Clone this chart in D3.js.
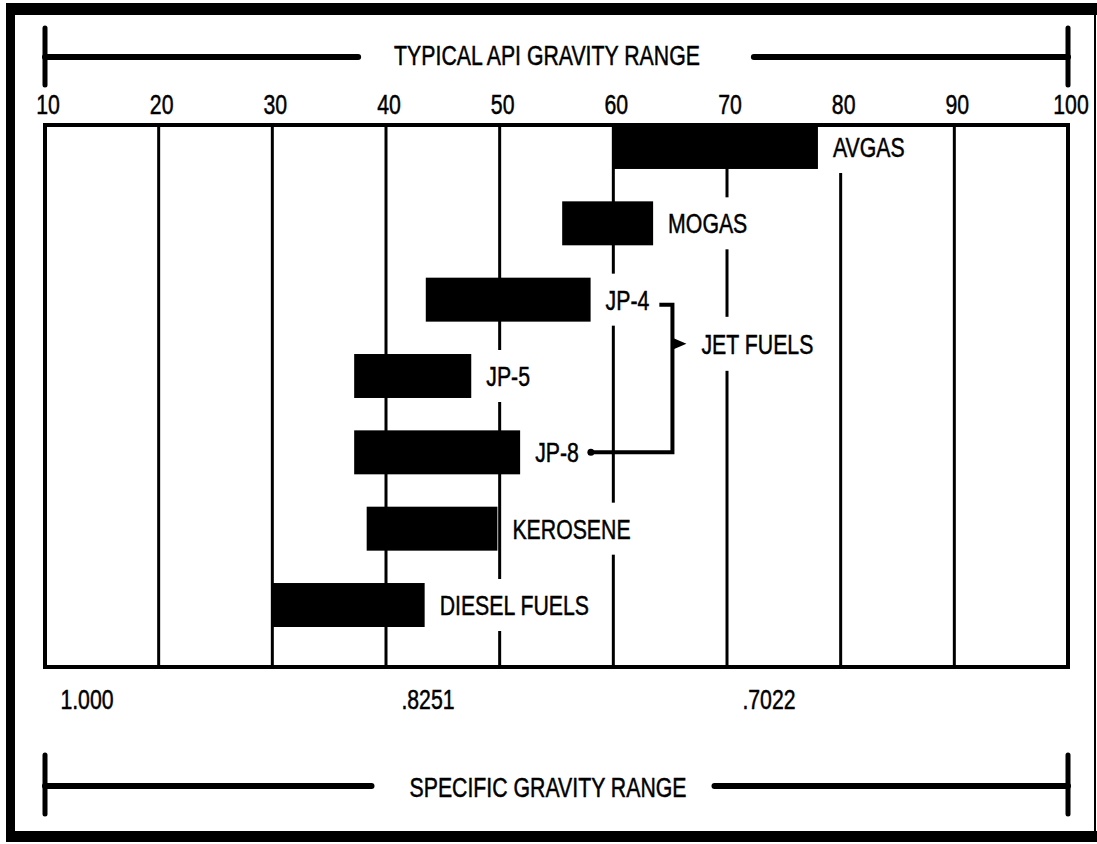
<!DOCTYPE html>
<html>
<head>
<meta charset="utf-8">
<script src="https://cdn.jsdelivr.net/npm/d3@7/dist/d3.min.js"></script>
<style>
  html, body { margin: 0; padding: 0; background: #fff; }
  svg { display: block; }
  text { font-family: "Liberation Sans", Arial, Helvetica, sans-serif; fill: #000; stroke: #000; stroke-width: 0.5px; }
</style>
</head>
<body>
<svg id="chart" width="1097" height="844"></svg>
<script>
// ---------------- data ----------------
const categories = ["AVGAS", "MOGAS", "JP-4", "JP-5", "JP-8", "KEROSENE", "DIESEL FUELS"];
const apiLow     = [60,   55.5, 43.5, 37.2, 37.2, 38.3, 30];
const apiHigh    = [78,   63.5, 58,   47.5, 51.8, 49.8, 43.4];
const apiTicks   = [10, 20, 30, 40, 50, 60, 70, 80, 90, 100];
const sgTickApi    = [10, 40, 70];
const sgTickLabels = ["1.000", ".8251", ".7022"];
const jetFuelGroup = ["JP-4", "JP-5", "JP-8"];
const jetFuelLabel = "JET FUELS";
const topTitle = "TYPICAL API GRAVITY RANGE";
const bottomTitle = "SPECIFIC GRAVITY RANGE";

// ---------------- layout ----------------
const W = 1097, H = 844;
const plotTop = 125, plotBottom = 667;
const FS = 28, SX = 0.76; // condensed type
const svg = d3.select("#chart");

const x = d3.scaleLinear().domain([10, 100]).range([45, 1068]);
const y = d3.scaleBand().domain(categories).range([plotTop, 627]).paddingInner(0.424).paddingOuter(0);

function addText(sel, tx, ty, str, anchor) {
  return sel.append("text")
    .attr("transform", `translate(${tx},${ty}) scale(${SX},1)`)
    .attr("text-anchor", anchor || "start")
    .attr("font-size", FS)
    .text(str);
}
function textWidth(t) { return t.node().getComputedTextLength() * SX; }

// outer scanned border
svg.append("rect").attr("x", 0).attr("y", 0).attr("width", W).attr("height", H).attr("fill", "#fff");
svg.append("rect").attr("x", 7).attr("y", 3).attr("width", W - 7).attr("height", 12).attr("fill", "#000");
svg.append("rect").attr("x", 6).attr("y", 3).attr("width", 9).attr("height", 839).attr("fill", "#000");
svg.append("rect").attr("x", 6).attr("y", 831).attr("width", W - 6).attr("height", 11).attr("fill", "#000");
svg.append("rect").attr("x", 1094).attr("y", 3).attr("width", 2).attr("height", 839).attr("fill", "#000");

// ---------------- range brackets ----------------
function rangeBracket(cy, y0, y1, title, baseline, cx, gapL, gapR) {
  const g = svg.append("g");
  const t = addText(g, cx, baseline, title, "middle");
  const tw = textWidth(t);
  const lw = 6;
  g.append("line").attr("x1", x(10)).attr("x2", cx - tw / 2 - gapL).attr("y1", cy).attr("y2", cy)
    .attr("stroke", "#000").attr("stroke-width", lw).attr("stroke-linecap", "round");
  g.append("line").attr("x1", cx + tw / 2 + gapR).attr("x2", x(100)).attr("y1", cy).attr("y2", cy)
    .attr("stroke", "#000").attr("stroke-width", lw).attr("stroke-linecap", "round");
  [x(10), x(100)].forEach(px => {
    g.append("line").attr("x1", px).attr("x2", px).attr("y1", y0).attr("y2", y1)
      .attr("stroke", "#000").attr("stroke-width", 5).attr("stroke-linecap", "round");
  });
}
rangeBracket(57, 28, 85, topTitle, 65, 547, 36, 54);
rangeBracket(786, 755, 814, bottomTitle, 797, 548, 38, 28);

// ---------------- API tick labels (top) ----------------
const topAxis = svg.append("g");
apiTicks.forEach(v => addText(topAxis, x(v) + 3, 114, String(v), "middle"));

// ---------------- gridlines ----------------
svg.append("g").selectAll("line")
  .data(apiTicks.slice(1, -1))
  .join("line")
  .attr("x1", d => x(d)).attr("x2", d => x(d))
  .attr("y1", plotTop).attr("y2", plotBottom)
  .attr("stroke", "#000").attr("stroke-width", 3);

// ---------------- bars ----------------
const rows = categories.map((c, i) => ({ name: c, lo: apiLow[i], hi: apiHigh[i] }));
svg.append("g").selectAll("rect")
  .data(rows)
  .join("rect")
  .attr("x", d => x(d.lo))
  .attr("y", d => y(d.name))
  .attr("width", d => x(d.hi) - x(d.lo))
  .attr("height", y.bandwidth())
  .attr("fill", "#000");

// ---------------- bar labels (white backing hides gridlines) ----------------
const labelG = svg.append("g");
const labelEnd = {};
rows.forEach(d => {
  const cy = y(d.name) + y.bandwidth() / 2;
  const lx = x(d.hi) + 15;
  const bg = labelG.append("rect").attr("fill", "#fff");
  const t = addText(labelG, lx, cy + 10, d.name, "start");
  const tw = textWidth(t);
  bg.attr("x", lx - 4).attr("y", cy - 26).attr("width", tw + 8).attr("height", 52);
  labelEnd[d.name] = lx + tw;
});

// ---------------- jet fuels bracket ----------------
const first = jetFuelGroup[0], last = jetFuelGroup[jetFuelGroup.length - 1];
const yTop = y(first) + y.bandwidth() / 2 + 5;
const yBot = y(last) + y.bandwidth() / 2;
const bx = x(65.2);
const nubY = (y(jetFuelGroup[0]) + y(jetFuelGroup[1])) / 2 + y.bandwidth() / 2 + 6;
const jg = svg.append("g");
const jbg = jg.append("rect").attr("fill", "#fff");
const jt = addText(jg, bx + 29, nubY + 10, jetFuelLabel, "start");
const jw = textWidth(jt);
jbg.attr("x", bx + 25).attr("y", nubY - 27).attr("width", jw + 8).attr("height", 54);
jg.append("path")
  .attr("d", `M${labelEnd[first] + 10},${yTop} H${bx} V${yBot} H${labelEnd[last] + 12}`)
  .attr("fill", "none").attr("stroke", "#000").attr("stroke-width", 4).attr("stroke-linejoin", "miter");
jg.append("path")
  .attr("d", `M${bx},${nubY - 6} L${bx + 14},${nubY} L${bx},${nubY + 6} Z`)
  .attr("fill", "#000");
jg.append("circle").attr("cx", labelEnd[last] + 12).attr("cy", yBot).attr("r", 3.5).attr("fill", "#000");

// ---------------- plot frame ----------------
svg.append("rect")
  .attr("x", x(10)).attr("y", plotTop)
  .attr("width", x(100) - x(10)).attr("height", plotBottom - plotTop)
  .attr("fill", "none").attr("stroke", "#000").attr("stroke-width", 4);

// ---------------- specific gravity labels (bottom) ----------------
const sgG = svg.append("g");
sgTickApi.forEach((v, i) => addText(sgG, x(v) + 42, 709, sgTickLabels[i], "middle"));
</script>
</body>
</html>
